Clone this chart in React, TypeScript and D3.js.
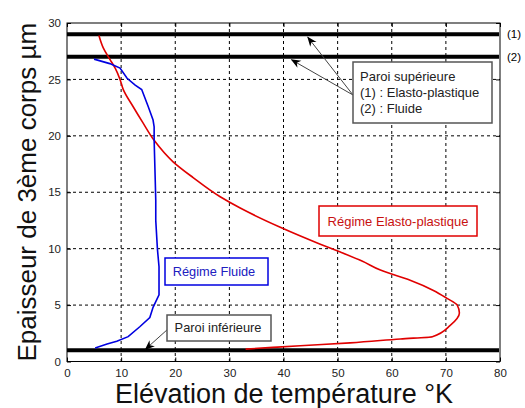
import React, { useRef, useEffect } from 'react';
import * as d3 from 'd3';

const elastoT = [5.9, 6.7, 7.9, 8.9, 9.8, 10.4, 12.2, 14.1, 16.1, 19.6, 23.3, 28.3, 32.0, 39.4, 46.8, 50.5, 54.5, 57.9, 63.4, 67.7, 70.2, 72.1, 72.5, 70.8, 67.5, 61.6, 52.3, 43.1, 38.0, 33.0];
const elastoH = [28.9, 27.8, 26.8, 26.0, 25.0, 24.1, 22.6, 21.1, 19.6, 17.7, 16.3, 14.6, 13.6, 11.9, 10.4, 9.7, 8.9, 8.1, 7.2, 6.3, 5.6, 5.0, 4.3, 3.2, 2.2, 2.0, 1.65, 1.4, 1.25, 1.1];
const fluideT = [5.0, 7.9, 9.8, 11.1, 12.6, 13.8, 15.0, 15.9, 16.1, 16.1, 16.3, 16.4, 16.4, 16.7, 17.0, 17.0, 15.9, 15.3, 13.5, 11.3, 9.2, 7.4, 5.2];
const fluideH = [26.8, 26.4, 26.0, 25.1, 24.5, 24.1, 22.6, 21.4, 20.8, 19.6, 16.1, 14.3, 12.5, 10.0, 8.4, 5.9, 4.8, 3.9, 3.1, 2.2, 1.8, 1.55, 1.2];
const wallLevels = [29, 27, 1];
const xTicks = [0, 10, 20, 30, 40, 50, 60, 70, 80];
const yTicks = [0, 5, 10, 15, 20, 25, 30];

const App = () => {
  const ref = useRef(null);

  useEffect(() => {
    const svg = d3.select(ref.current);
    svg.selectAll('*').remove();
    const left = 67, right = 500, top = 23, bottom = 361.5;
    const font = 'Liberation Sans, Arial, sans-serif';
    const x = d3.scaleLinear().domain([0, 80]).range([left, right]);
    const y = d3.scaleLinear().domain([0, 30]).range([bottom, top]);

    svg.append('rect').attr('width', 525).attr('height', 408).attr('fill', '#fff');

    const defs = svg.append('defs');
    defs.append('marker').attr('id', 'ah').attr('viewBox', '0 0 10 10').attr('refX', 9).attr('refY', 5)
      .attr('markerWidth', 10).attr('markerHeight', 10).attr('markerUnits', 'userSpaceOnUse').attr('orient', 'auto')
      .append('path').attr('d', 'M0,1 L10,5 L0,9 L3,5 Z').attr('fill', '#000');

    // grid
    const grid = svg.append('g').attr('stroke', '#000').attr('stroke-width', 1).attr('stroke-dasharray', '3,3');
    xTicks.slice(1, -1).forEach(t => grid.append('line').attr('x1', x(t)).attr('x2', x(t)).attr('y1', top).attr('y2', bottom));
    yTicks.slice(1, -1).forEach(t => grid.append('line').attr('x1', left).attr('x2', right).attr('y1', y(t)).attr('y2', y(t)));

    // axes
    const xa = svg.append('g').attr('transform', `translate(0,${bottom})`)
      .call(d3.axisBottom(x).tickValues(xTicks).tickSize(-4).tickPadding(7));
    const ya = svg.append('g').attr('transform', `translate(${left},0)`)
      .call(d3.axisLeft(y).tickValues(yTicks).tickSize(-4).tickPadding(6));
    [xa, ya].forEach(a => {
      a.select('.domain').remove();
      a.selectAll('text').attr('font-family', font).attr('font-size', 11.5).attr('fill', '#222');
    });
    svg.append('g').call(d3.axisTop(x).tickValues(xTicks).tickSize(-4).tickFormat(() => ''))
      .attr('transform', `translate(0,${top})`).select('.domain').remove();
    svg.append('g').call(d3.axisRight(y).tickValues(yTicks).tickSize(-4).tickFormat(() => ''))
      .attr('transform', `translate(${right},0)`).select('.domain').remove();
    svg.append('rect').attr('x', left).attr('y', top).attr('width', right - left).attr('height', bottom - top)
      .attr('fill', 'none').attr('stroke', '#000').attr('stroke-width', 1);

    // walls
    wallLevels.forEach(w => svg.append('line').attr('x1', left).attr('x2', right - 1)
      .attr('y1', y(w)).attr('y2', y(w)).attr('stroke', '#000').attr('stroke-width', 4));

    const redLine = d3.line<number[]>().x(d => x(d[0])).y(d => y(d[1])).curve(d3.curveMonotoneY);
    const blueLine = d3.line<number[]>().x(d => x(d[0])).y(d => y(d[1]));
    svg.append('path').datum(elastoT.map((t, i) => [t, elastoH[i]])).attr('d', redLine as any)
      .attr('fill', 'none').attr('stroke', '#e00000').attr('stroke-width', 1.6);
    svg.append('path').datum(fluideT.map((t, i) => [t, fluideH[i]])).attr('d', blueLine as any)
      .attr('fill', 'none').attr('stroke', '#0000e0').attr('stroke-width', 1.6);

    // labels (1), (2)
    svg.append('text').attr('x', 507).attr('y', y(29) + 4).text('(1)').attr('font-family', font).attr('font-size', 11.5);
    svg.append('text').attr('x', 507).attr('y', y(27) + 4).text('(2)').attr('font-family', font).attr('font-size', 11.5);

    const arrow = (x1, y1, x2, y2) => svg.append('line').attr('x1', x1).attr('y1', y1).attr('x2', x2).attr('y2', y2)
      .attr('stroke', '#444').attr('stroke-width', 1).attr('marker-end', 'url(#ah)');

    arrow(353, 95, x(44.5), y(29) + 3);
    arrow(353, 95, x(41.5), y(27) + 3);
    svg.append('rect').attr('x', 353).attr('y', 62).attr('width', 139).attr('height', 61)
      .attr('fill', '#fff').attr('stroke', '#555').attr('stroke-width', 1.5);
    ['Paroi supérieure', '(1) : Elasto-plastique', '(2) : Fluide'].forEach((l, i) =>
      svg.append('text').attr('x', 360).attr('y', 81 + i * 16).text(l)
        .attr('font-family', font).attr('font-size', 13).attr('fill', '#222'));

    svg.append('rect').attr('x', 319).attr('y', 206).attr('width', 158).attr('height', 30)
      .attr('fill', '#fff').attr('stroke', '#e00000').attr('stroke-width', 1.5);
    svg.append('text').attr('x', 398).attr('y', 226).attr('text-anchor', 'middle').text('Régime Elasto-plastique')
      .attr('font-family', font).attr('font-size', 13).attr('fill', '#c81010');

    svg.append('rect').attr('x', 165).attr('y', 258).attr('width', 103).attr('height', 27)
      .attr('fill', '#fff').attr('stroke', '#0000e0').attr('stroke-width', 1.5);
    svg.append('text').attr('x', 214).attr('y', 276).attr('text-anchor', 'middle').text('Régime Fluide')
      .attr('font-family', font).attr('font-size', 12.8).attr('fill', '#2020c0');

    arrow(168, 329, x(14.5), y(1) - 1);
    svg.append('rect').attr('x', 167).attr('y', 315).attr('width', 104).attr('height', 26)
      .attr('fill', '#fff').attr('stroke', '#555').attr('stroke-width', 1.5);
    svg.append('text').attr('x', 218).attr('y', 332).attr('text-anchor', 'middle').text('Paroi inférieure')
      .attr('font-family', font).attr('font-size', 12.8).attr('fill', '#222');

    // axis titles
    svg.append('text').attr('x', 284).attr('y', 403).attr('text-anchor', 'middle')
      .text('Elévation de température °K').attr('font-family', font).attr('font-size', 27).attr('fill', '#111');
    svg.append('text').attr('transform', `translate(36,${(top + bottom) / 2}) rotate(-90)`).attr('text-anchor', 'middle')
      .text('Epaisseur de 3ème corps µm').attr('font-family', font).attr('font-size', 26).attr('fill', '#111');
  }, []);

  return (
    <svg ref={ref} width="525" height="408" style={{ position: 'absolute', left: 0, top: 0 }}></svg>
  );
};

export default App;
